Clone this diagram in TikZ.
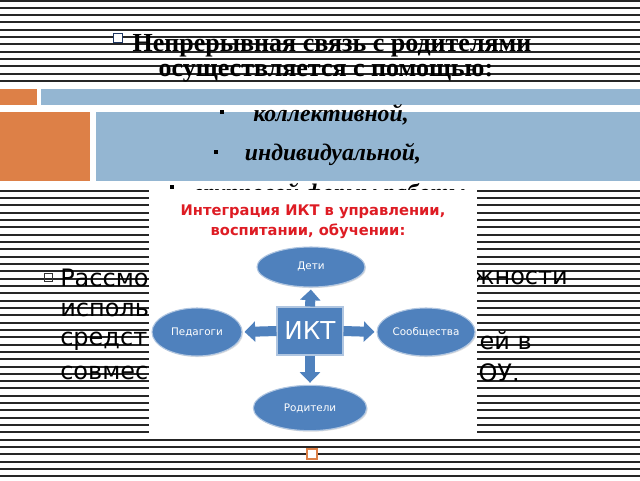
\documentclass[tikz,border=0pt]{standalone}
\usepackage{fontspec}
\setmainfont{Liberation Serif}
\newfontfamily\sansf{DejaVu Sans}
\usetikzlibrary{shapes.geometric,arrows.meta,shadows}
\definecolor{orng}{RGB}{221,128,71}
\definecolor{lblue}{RGB}{148,182,210}
\definecolor{dblue}{RGB}{79,129,189}
\definecolor{navyb}{RGB}{31,56,100}
\definecolor{redt}{RGB}{222,28,36}
\begin{document}
\begin{tikzpicture}[x=0.75pt,y=-0.75pt,
  stripe/.style={line width=1.5pt, draw=black!85},
  ttl/.style={inner sep=0pt, font=\bfseries\fontsize{19.5}{22}\selectfont},
  itm/.style={inner sep=0pt, font=\bfseries\itshape\fontsize{17.8}{20}\selectfont},
  dot/.style={fill=black, minimum size=3pt, inner sep=0pt},
  low/.style={inner sep=0pt, font=\sansf\fontsize{18}{21}\selectfont},
  rtitle/.style={inner sep=0pt, text=redt, font=\sansf\bfseries\fontsize{11}{13}\selectfont},
  ell/.style={ellipse, fill=dblue, draw=dblue!45, line width=0.8pt, inner sep=0pt, text=white,
     font=\sansf\fontsize{7.8}{9}\selectfont, drop shadow={shadow xshift=0.8pt, shadow yshift=-0.8pt, opacity=0.25}},
  sqbox/.style={rectangle, fill=dblue, draw=dblue!45, line width=0.8pt, inner sep=0pt, text=white,
     font=\sansf\fontsize{18.5}{20}\selectfont},
  blockarr/.style={draw=dblue, line width=7.5pt, -{Triangle[width=15pt,length=8pt]}, shorten >=1.5pt}
]
\useasboundingbox (0,0) rectangle (640,480);
\fill[white] (0,0) rectangle (640,480);
\foreach \i in {0,...,65} \draw[stripe] (0,{\i*7.32+0.5}) -- (640,{\i*7.32+0.5});
% white band and coloured bars
\fill[white] (0,83) rectangle (640,188);
\fill[orng] (0,89) rectangle (37,105);
\fill[lblue] (41,89) rectangle (640,105);
\fill[orng] (0,112) rectangle (90,181);
\fill[lblue] (96,112) rectangle (640,181);
% title
\node[draw=navyb, line width=0.6pt, fill=white, minimum size=6.5pt, inner sep=0pt] (b0) at (118,38) {};
\node[ttl] (t1) at (332,45.5) {Непрерывная связь с родителями};
\node[ttl] (t2) at (326,73.5) {осуществляется с помощью:};
\node[dot] (d1) at (222,112) {};
\node[itm] (i1) at (331,114.5) {коллективной,};
\node[dot] (d2) at (216,152) {};
\node[itm] (i2) at (333,154.5) {индивидуальной,};
% lower text (only the parts left visible beside the picture)
\node[draw=black!80, line width=0.6pt, minimum size=6pt, inner sep=0pt] (b1) at (48,277) {};
\node[low, anchor=west] (l1a) at (60,278) {Рассмо};
\node[low, anchor=east] (l1b) at (568,278) {жности};
\node[low, anchor=west] (l2a) at (60,310) {исполь};
\node[low, anchor=west] (l3a) at (60,341) {средст};
\node[low, anchor=east] (l3b) at (532,341) {ей в};
\node[low, anchor=west] (l4a) at (60,373) {совмес};
\node[low, anchor=east] (l4b) at (520,373) {ОУ.};
% white picture box
\fill[white] (149,181) rectangle (477,438);
\begin{scope}
\clip (0,181) rectangle (640,189);
\node[dot] (d3) at (172,187) {};
\node[itm] (i3) at (330,195) {групповой формы работы};
\end{scope}
% diagram
\node[rtitle] (rt1) at (313,212) {Интеграция ИКТ в управлении,};
\node[rtitle] (rt2) at (308,231) {воспитании, обучении:};
\node[sqbox, minimum width=49.5pt, minimum height=36pt] (ikt) at (310,331) {ИКТ};
\node[ell, minimum width=81pt, minimum height=30pt] (deti) at (311,267) {Дети};
\node[ell, minimum width=67.5pt, minimum height=36pt] (ped) at (197,332) {Педагоги};
\node[ell, minimum width=73.5pt, minimum height=36pt] (soo) at (426,332) {Сообщества};
\node[ell, minimum width=85pt, minimum height=34pt] (rod) at (310,408) {Родители};
\draw[blockarr] (ikt.north) -- (deti.south);
\draw[blockarr] (ikt.west) -- (ped.east);
\draw[blockarr] (ikt.east) -- (soo.west);
\draw[blockarr] (ikt.south) -- (rod.north);
% bottom marker
\node[draw=orng, line width=0.8pt, fill=white, minimum size=7.5pt, inner sep=0pt] (b2) at (312,454) {};
\end{tikzpicture}
\end{document}
